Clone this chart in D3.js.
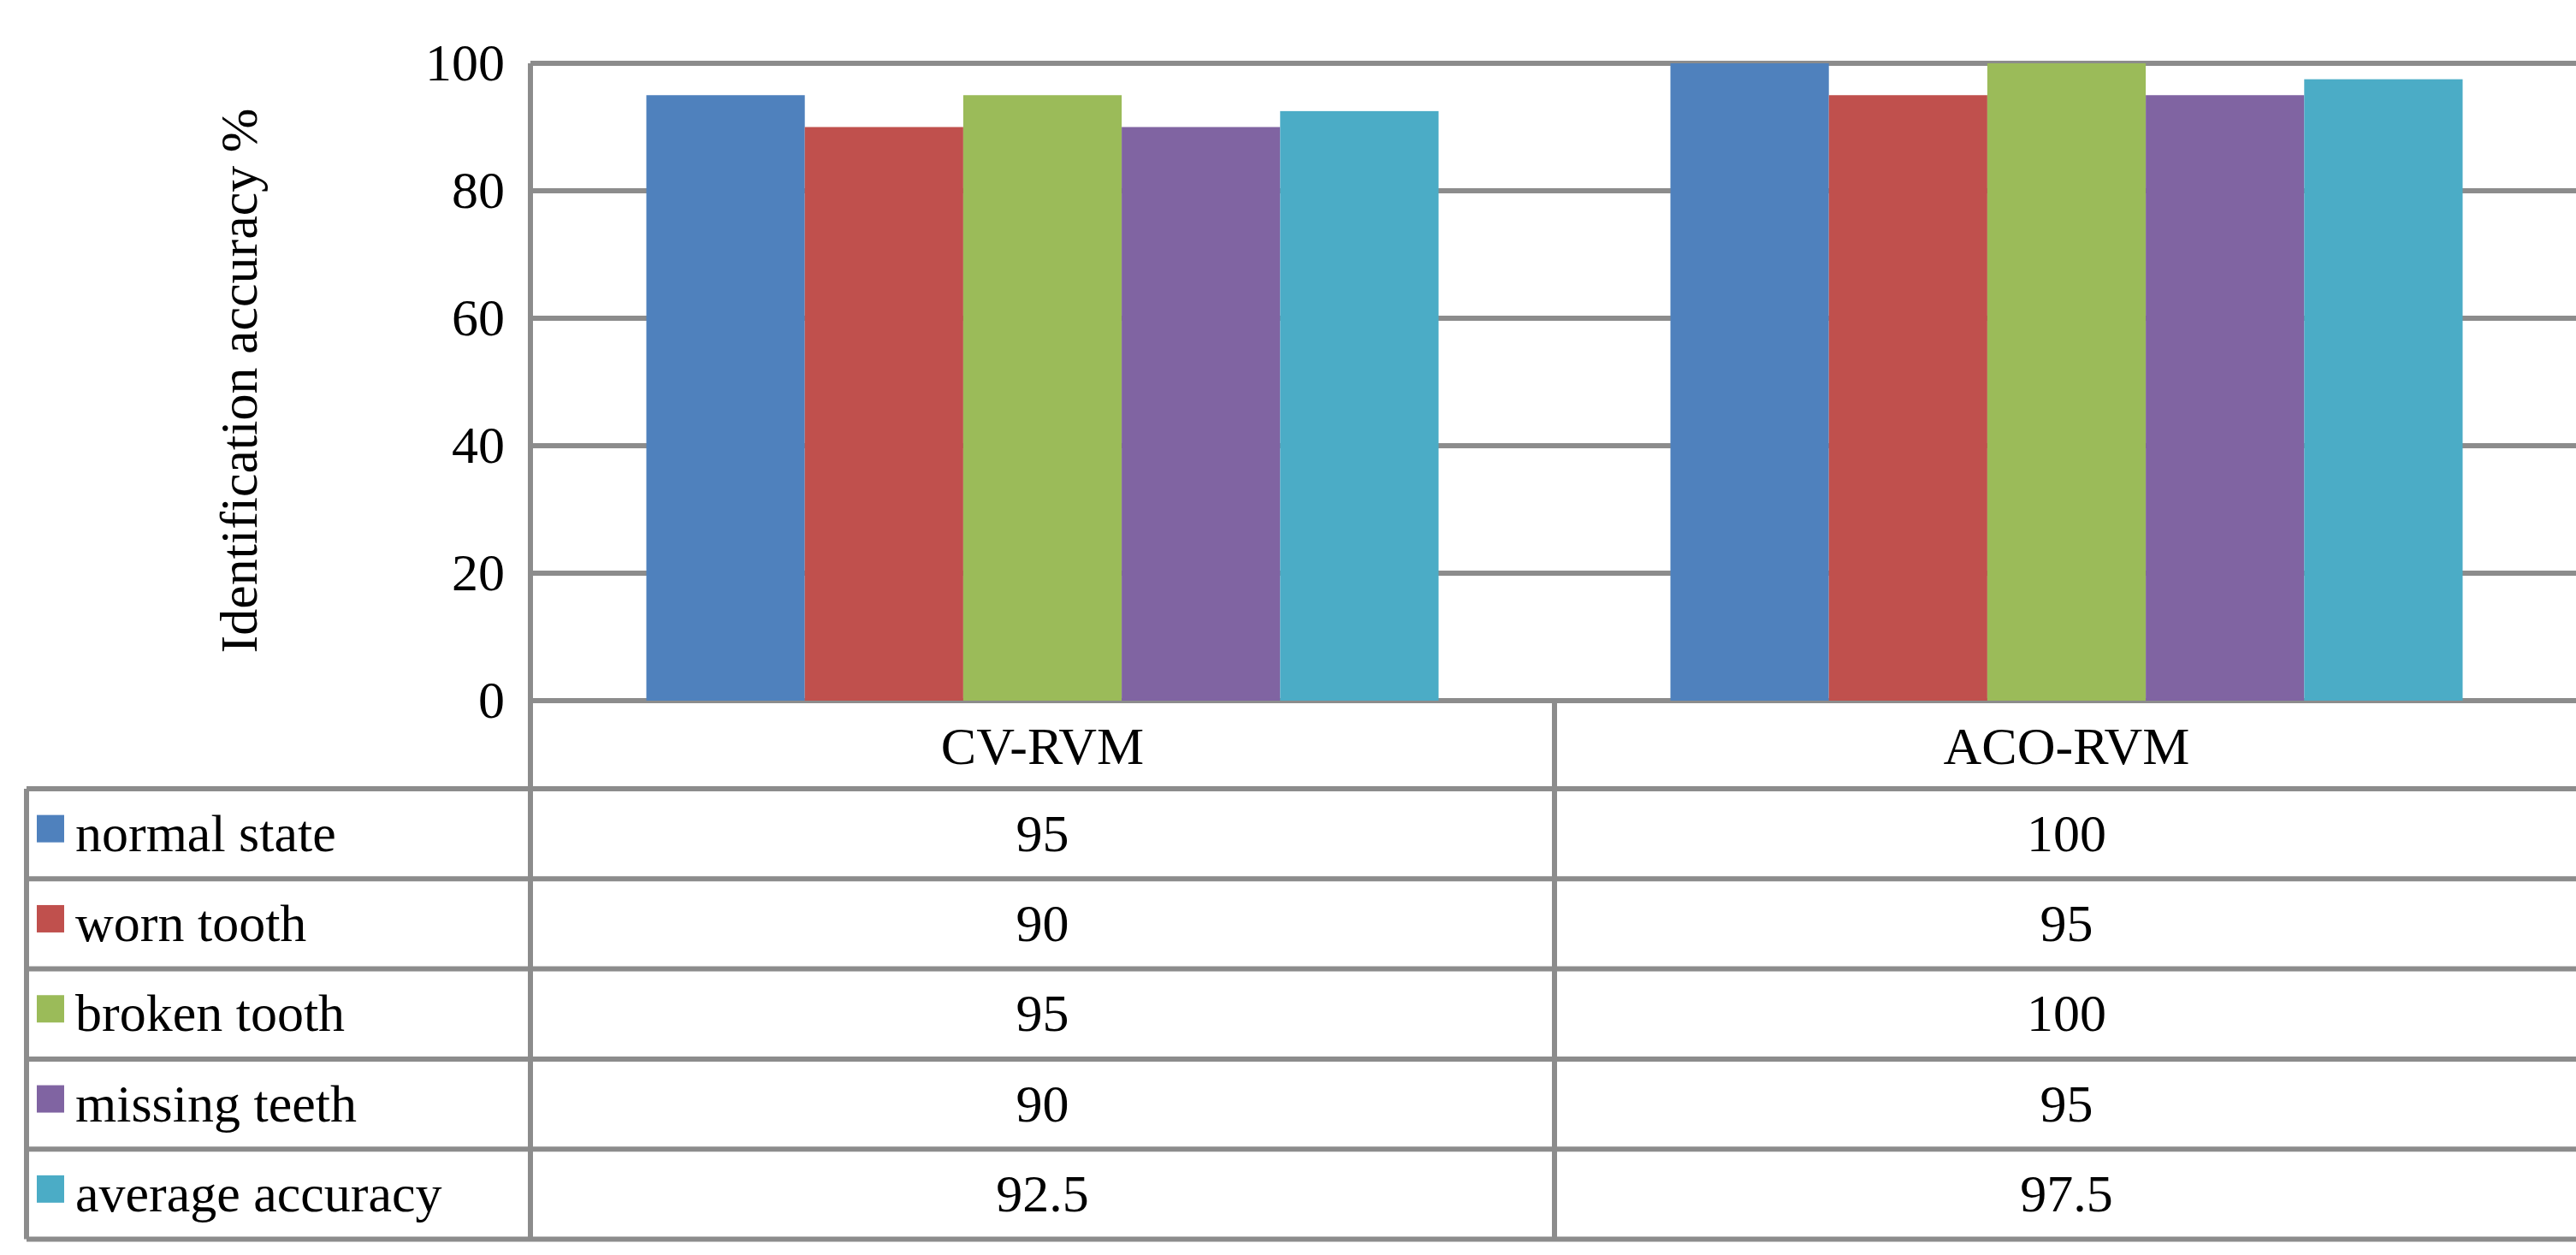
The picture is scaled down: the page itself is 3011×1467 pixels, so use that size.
<!DOCTYPE html><html><head><meta charset="utf-8">
<script src="https://cdn.jsdelivr.net/npm/d3@7"></script>
<style>body{margin:0;background:#fff}svg{display:block}text{font-family:"Liberation Serif","Times New Roman",serif;fill:#000}</style>
</head><body><svg id="c" width="3011" height="1467"></svg>
<script>
const categories=["CV-RVM","ACO-RVM"];
const seriesNames=["normal state","worn tooth","broken tooth","missing teeth","average accuracy"];
const seriesValues=[[95,100],[90,95],[95,100],[90,95],[92.5,97.5]];
const seriesLabels=[["95","100"],["90","95"],["95","100"],["90","95"],["92.5","97.5"]];
const colors=["#4f81bd","#c0504d","#9bbb59","#8064a2","#4bacc6"];
const yTicks=[0,20,40,60,80,100];

const svg=d3.select("#c");
const L=620,R=3014,T=74,B=819,W=3011;
const grid="#8c8c8c",gw=6;
const x0=d3.scaleBand().domain(categories).range([L,R]);
const step=x0.bandwidth(), frac=926/1197;
const x1=d3.scaleBand().domain(seriesNames).range([step*(1-frac)/2,step*(1+frac)/2]);
const y=d3.scaleLinear().domain([0,100]).range([B,T]);

// gridlines
svg.append("g").selectAll("line").data(yTicks).join("line")
 .attr("x1",L).attr("x2",W).attr("y1",d=>y(d)).attr("y2",d=>y(d)).attr("stroke",grid).attr("stroke-width",gw);
// bars
seriesNames.forEach((s,i)=>{
 svg.append("g").selectAll("rect").data(categories).join("rect")
  .attr("x",c=>x0(c)+x1(s)).attr("width",x1.bandwidth())
  .attr("y",(c,j)=>y(seriesValues[i][j])).attr("height",(c,j)=>B-y(seriesValues[i][j]))
  .attr("fill",colors[i]);
});
// y axis ticks
const ya=d3.axisLeft(y).tickValues(yTicks).tickSize(0).tickPadding(30);
const g=svg.append("g").attr("transform",`translate(${L},0)`).call(ya);
g.select(".domain").remove();
g.selectAll("text").style("font-size","62px").style("font-family","Liberation Serif");
svg.append("text").attr("transform","translate(300,445) rotate(-90)").attr("text-anchor","middle")
 .style("font-size","62px").text("Identification accuracy %");

// table
const rowH=105.3, catTop=B, catBot=922;
const rows=seriesNames.map((s,i)=>catBot+i*rowH);
const tb=rows[rows.length-1]+rowH;
const tl=31;
const lines=svg.append("g").attr("stroke",grid).attr("stroke-width",gw);
lines.append("line").attr("x1",L).attr("x2",L).attr("y1",T).attr("y2",tb);
lines.append("line").attr("x1",x0.step()+L).attr("x2",x0.step()+L).attr("y1",B).attr("y2",tb);
lines.append("line").attr("x1",tl).attr("x2",tl).attr("y1",catBot).attr("y2",tb);
[...rows,tb].forEach(r=>lines.append("line").attr("x1",tl).attr("x2",W).attr("y1",r).attr("y2",r));
categories.forEach(c=>svg.append("text").attr("x",x0(c)+step/2).attr("y",(catTop+catBot)/2+22).attr("text-anchor","middle").style("font-size","62px").text(c));
seriesNames.forEach((s,i)=>{
 const cy=rows[i]+rowH/2;
 svg.append("rect").attr("x",43).attr("y",cy-22).attr("width",32).attr("height",32).attr("fill",colors[i]);
 svg.append("text").attr("x",88).attr("y",cy+20).style("font-size","62px").text(s);
 categories.forEach((c,j)=>svg.append("text").attr("x",x0(c)+step/2).attr("y",cy+20).attr("text-anchor","middle").style("font-size","62px").text(seriesLabels[i][j]));
});
</script></body></html>
